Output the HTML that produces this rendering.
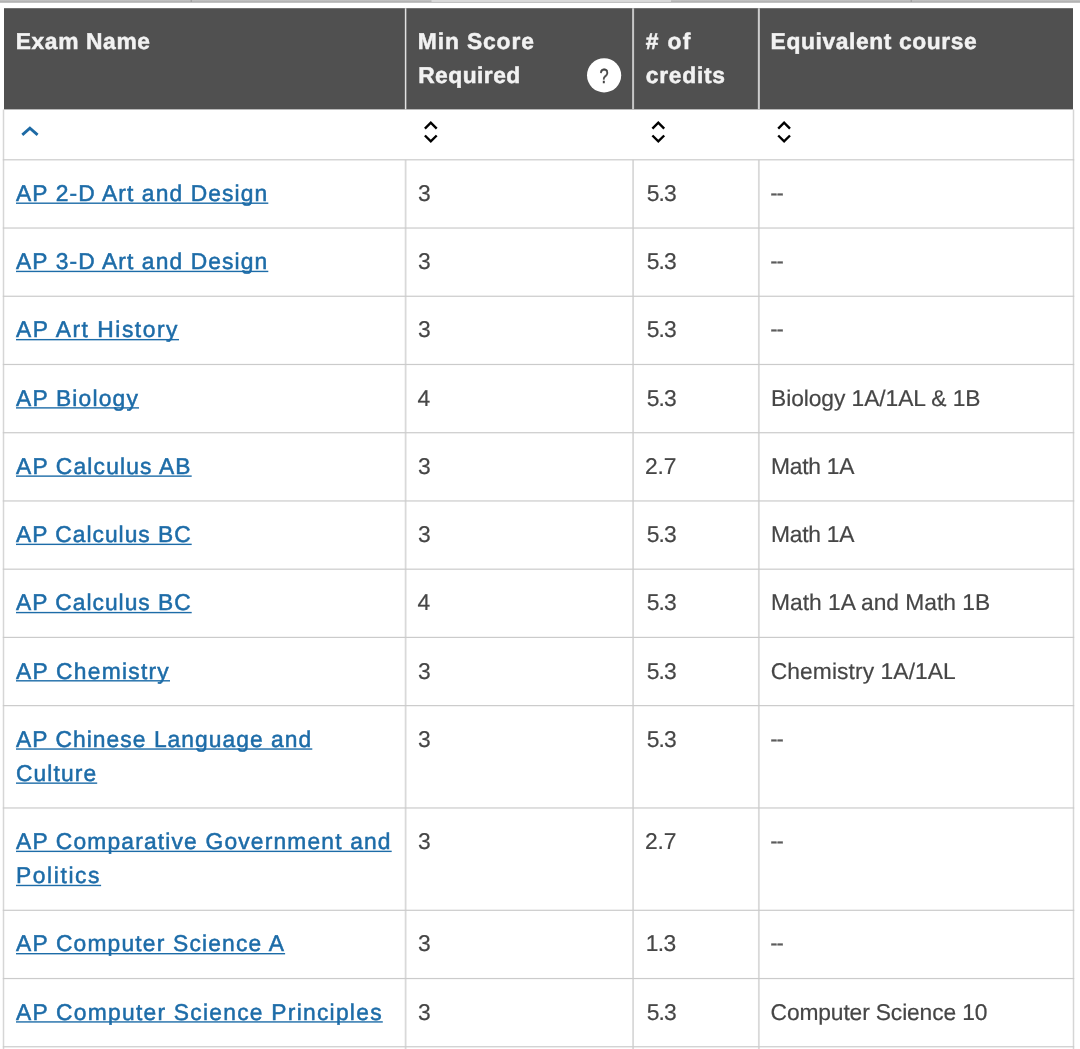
<!DOCTYPE html>
<html lang="en">
<head>
<meta charset="utf-8">
<title>AP Exam Credit</title>
<style>
html,body{margin:0;padding:0;background:#fff;}
body{width:1080px;height:1049px;overflow:hidden;position:relative;font-family:"Liberation Sans",sans-serif;text-rendering:geometricPrecision;}
.bg{position:absolute;left:0;top:0;}
.t{position:absolute;white-space:nowrap;font-size:22.8px;line-height:36px;height:36px;color:#464646;-webkit-text-stroke:0.2px #464646;}
.h{color:#f2f2f2;font-weight:bold;-webkit-text-stroke:0.5px #f2f2f2;}
.l{color:#1d6ca8;text-decoration:none;-webkit-text-stroke:0.5px #1d6ca8;}
.d{font-size:20.5px;color:#5c5c5c;-webkit-text-stroke:0.45px #5c5c5c;}
.q{position:absolute;left:587px;top:60px;width:34.2px;height:34.2px;line-height:34.2px;text-align:center;font-size:20.5px;color:#444;-webkit-text-stroke:0.45px #444;transform:scaleX(0.8);}
</style>
</head>
<body>
<svg class="bg" width="1080" height="1049" viewBox="0 0 1080 1049">
<defs><linearGradient id="tb" x1="0" y1="0" x2="0" y2="1"><stop offset="0" stop-color="#c6c6c6"/><stop offset="1" stop-color="#a4a4a4"/></linearGradient></defs>
<rect x="0" y="0" width="1080" height="2.7" fill="url(#tb)"/>
<rect x="431.5" y="0" width="239.5" height="1.9" fill="#dadada"/>
<rect x="190.7" y="0" width="1" height="2" fill="#939393"/>
<rect x="910.7" y="0" width="1" height="2" fill="#939393"/>
<rect x="4" y="8.2" width="1069" height="101.2" fill="#505050"/>
<rect x="404.85" y="8.2" width="1.5" height="101.2" fill="#e2e2e2"/>
<rect x="632.10" y="8.2" width="2.0" height="101.2" fill="#c6c6c6"/>
<rect x="757.85" y="8.2" width="2.0" height="101.2" fill="#cecece"/>
<rect x="2.75" y="109.4" width="1.5" height="939.6" fill="#d6d6d6"/>
<rect x="1072.75" y="109.4" width="1.5" height="939.6" fill="#d6d6d6"/>
<rect x="404.70" y="159.8" width="1.8" height="889.2" fill="#d9d9d9"/>
<rect x="632.20" y="159.8" width="1.8" height="889.2" fill="#d9d9d9"/>
<rect x="757.95" y="159.8" width="1.8" height="889.2" fill="#d9d9d9"/>
<rect x="2.8" y="159.20" width="1071.4" height="1.2" fill="#cbcbcb"/>
<rect x="2.8" y="227.43" width="1071.4" height="1.2" fill="#cbcbcb"/>
<rect x="2.8" y="295.66" width="1071.4" height="1.2" fill="#cbcbcb"/>
<rect x="2.8" y="363.89" width="1071.4" height="1.2" fill="#cbcbcb"/>
<rect x="2.8" y="432.12" width="1071.4" height="1.2" fill="#cbcbcb"/>
<rect x="2.8" y="500.35" width="1071.4" height="1.2" fill="#cbcbcb"/>
<rect x="2.8" y="568.58" width="1071.4" height="1.2" fill="#cbcbcb"/>
<rect x="2.8" y="636.81" width="1071.4" height="1.2" fill="#cbcbcb"/>
<rect x="2.8" y="705.04" width="1071.4" height="1.2" fill="#cbcbcb"/>
<rect x="2.8" y="807.37" width="1071.4" height="1.2" fill="#cbcbcb"/>
<rect x="2.8" y="909.70" width="1071.4" height="1.2" fill="#cbcbcb"/>
<rect x="2.8" y="977.93" width="1071.4" height="1.2" fill="#cbcbcb"/>
<rect x="2.8" y="1046.16" width="1071.4" height="1.2" fill="#cbcbcb"/>
<path d="M22.3 134.9 L29.9 128.1 L37.6 134.9" fill="none" stroke="#1d6aa5" stroke-width="2.8"/>
<path d="M424.9 128.6 L430.8 122.7 L436.7 128.6 M424.9 135.5 L430.8 141.4 L436.7 135.5" fill="none" stroke="#000" stroke-width="2.4"/>
<path d="M652.4 128.6 L658.3 122.7 L664.2 128.6 M652.4 135.5 L658.3 141.4 L664.2 135.5" fill="none" stroke="#000" stroke-width="2.4"/>
<path d="M778.2 128.6 L784.1 122.7 L790.0 128.6 M778.2 135.5 L784.1 141.4 L790.0 135.5" fill="none" stroke="#000" stroke-width="2.4"/>
<circle cx="604.1" cy="75.3" r="17.1" fill="#ffffff"/>
<rect x="16.0" y="202.50" width="252.3" height="1.4" fill="#1d6ca8"/>
<rect x="16.0" y="270.73" width="252.3" height="1.4" fill="#1d6ca8"/>
<rect x="16.0" y="338.96" width="163.0" height="1.4" fill="#1d6ca8"/>
<rect x="16.0" y="407.19" width="123.0" height="1.4" fill="#1d6ca8"/>
<rect x="16.0" y="475.42" width="175.7" height="1.4" fill="#1d6ca8"/>
<rect x="16.0" y="543.65" width="175.7" height="1.4" fill="#1d6ca8"/>
<rect x="16.0" y="611.88" width="175.7" height="1.4" fill="#1d6ca8"/>
<rect x="16.0" y="680.11" width="154.0" height="1.4" fill="#1d6ca8"/>
<rect x="16.0" y="748.34" width="296.3" height="1.4" fill="#1d6ca8"/>
<rect x="16.0" y="782.44" width="81.2" height="1.4" fill="#1d6ca8"/>
<rect x="16.0" y="850.67" width="375.7" height="1.4" fill="#1d6ca8"/>
<rect x="16.0" y="884.77" width="85.1" height="1.4" fill="#1d6ca8"/>
<rect x="16.0" y="953.00" width="269.1" height="1.4" fill="#1d6ca8"/>
<rect x="16.0" y="1021.23" width="366.8" height="1.4" fill="#1d6ca8"/>
</svg>
<div class="t h" style="left:15.70px;top:23px;letter-spacing:0.628px">Exam Name</div>
<div class="t h" style="left:417.80px;top:23px;letter-spacing:0.892px">Min Score</div>
<div class="t h" style="left:418.20px;top:57px;letter-spacing:0.461px">Required</div>
<div class="t h" style="left:645.80px;top:23px;letter-spacing:1.321px"># of</div>
<div class="t h" style="left:645.80px;top:57px;letter-spacing:0.737px">credits</div>
<div class="t h" style="left:770.60px;top:23px;letter-spacing:0.607px">Equivalent course</div>
<div class="q">?</div>
<a class="t l" style="left:16.00px;top:175px;letter-spacing:1.113px">AP 2-D Art and Design</a>
<div class="t " style="left:417.90px;top:175px">3</div>
<div class="t " style="left:646.70px;top:175px;letter-spacing:-0.906px">5.3</div>
<div class="t d" style="left:770.60px;top:176px;letter-spacing:-0.600px">--</div>
<a class="t l" style="left:16.00px;top:243px;letter-spacing:1.113px">AP 3-D Art and Design</a>
<div class="t " style="left:417.90px;top:243px">3</div>
<div class="t " style="left:646.70px;top:243px;letter-spacing:-0.906px">5.3</div>
<div class="t d" style="left:770.60px;top:244px;letter-spacing:-0.600px">--</div>
<a class="t l" style="left:16.00px;top:311px;letter-spacing:1.538px">AP Art History</a>
<div class="t " style="left:417.90px;top:311px">3</div>
<div class="t " style="left:646.70px;top:311px;letter-spacing:-0.906px">5.3</div>
<div class="t d" style="left:770.60px;top:312px;letter-spacing:-0.600px">--</div>
<a class="t l" style="left:16.00px;top:380px;letter-spacing:1.190px">AP Biology</a>
<div class="t " style="left:417.40px;top:380px">4</div>
<div class="t " style="left:646.70px;top:380px;letter-spacing:-0.906px">5.3</div>
<div class="t " style="left:771.00px;top:380px;letter-spacing:-0.072px">Biology 1A/1AL &amp; 1B</div>
<a class="t l" style="left:16.00px;top:448px;letter-spacing:1.175px">AP Calculus AB</a>
<div class="t " style="left:417.90px;top:448px">3</div>
<div class="t " style="left:645.00px;top:448px;letter-spacing:-0.106px">2.7</div>
<div class="t " style="left:771.00px;top:448px;letter-spacing:-0.232px">Math 1A</div>
<a class="t l" style="left:16.00px;top:516px;letter-spacing:0.996px">AP Calculus BC</a>
<div class="t " style="left:417.90px;top:516px">3</div>
<div class="t " style="left:646.70px;top:516px;letter-spacing:-0.906px">5.3</div>
<div class="t " style="left:771.00px;top:516px;letter-spacing:-0.232px">Math 1A</div>
<a class="t l" style="left:16.00px;top:584px;letter-spacing:0.996px">AP Calculus BC</a>
<div class="t " style="left:417.40px;top:584px">4</div>
<div class="t " style="left:646.70px;top:584px;letter-spacing:-0.906px">5.3</div>
<div class="t " style="left:771.00px;top:584px">Math 1A and Math 1B</div>
<a class="t l" style="left:16.00px;top:653px;letter-spacing:1.256px">AP Chemistry</a>
<div class="t " style="left:417.90px;top:653px">3</div>
<div class="t " style="left:646.70px;top:653px;letter-spacing:-0.906px">5.3</div>
<div class="t " style="left:770.80px;top:653px;letter-spacing:0.085px">Chemistry 1A/1AL</div>
<a class="t l" style="left:16.00px;top:721px;letter-spacing:1.052px">AP Chinese Language and</a>
<a class="t l" style="left:16.00px;top:755px;letter-spacing:1.102px">Culture</a>
<div class="t " style="left:417.90px;top:721px">3</div>
<div class="t " style="left:646.70px;top:721px;letter-spacing:-0.906px">5.3</div>
<div class="t d" style="left:770.60px;top:722px;letter-spacing:-0.600px">--</div>
<a class="t l" style="left:16.00px;top:823px;letter-spacing:1.172px">AP Comparative Government and</a>
<a class="t l" style="left:16.00px;top:857px;letter-spacing:1.611px">Politics</a>
<div class="t " style="left:417.90px;top:823px">3</div>
<div class="t " style="left:645.00px;top:823px;letter-spacing:-0.106px">2.7</div>
<div class="t d" style="left:770.60px;top:824px;letter-spacing:-0.600px">--</div>
<a class="t l" style="left:16.00px;top:925px;letter-spacing:1.188px">AP Computer Science A</a>
<div class="t " style="left:417.90px;top:925px">3</div>
<div class="t " style="left:645.80px;top:925px;letter-spacing:-0.656px">1.3</div>
<div class="t d" style="left:770.60px;top:926px;letter-spacing:-0.600px">--</div>
<a class="t l" style="left:16.00px;top:994px;letter-spacing:1.259px">AP Computer Science Principles</a>
<div class="t " style="left:417.90px;top:994px">3</div>
<div class="t " style="left:646.70px;top:994px;letter-spacing:-0.906px">5.3</div>
<div class="t " style="left:770.60px;top:994px;letter-spacing:-0.136px">Computer Science 10</div>
</body>
</html>
